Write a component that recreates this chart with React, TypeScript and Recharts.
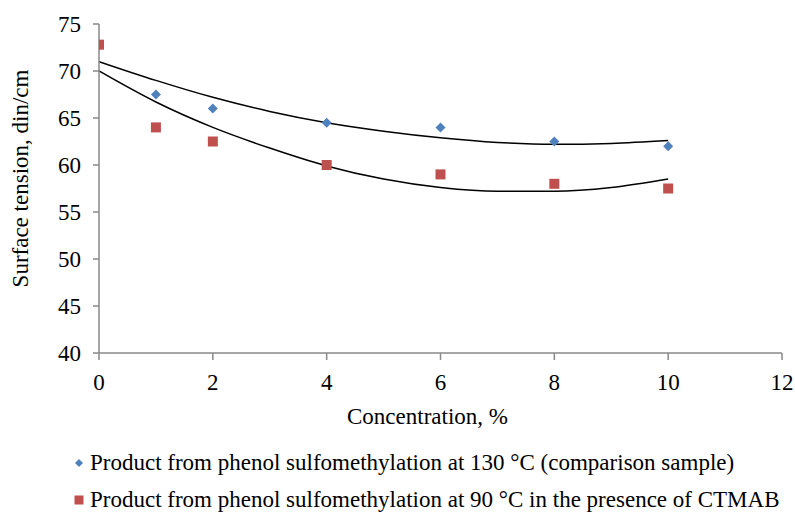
import { ComposedChart, Scatter, Line, XAxis, YAxis } from "recharts";

const seriesNames = [
  "Product from phenol sulfomethylation at 130 °C (comparison sample)",
  "Product from phenol sulfomethylation at 90 °C in the presence of CTMAB",
];
const seriesColors = ["#4F81BD", "#C0504D"];

const xTicks = [0, 2, 4, 6, 8, 10, 12];
const yTicks = [40, 45, 50, 55, 60, 65, 70, 75];

const blueX = [1, 2, 4, 6, 8, 10];
const blueY = [67.5, 66, 64.5, 64, 62.5, 62];

const redX = [0, 1, 2, 4, 6, 8, 10];
const redY = [72.8, 64, 62.5, 60, 59, 58, 57.5];

// trend lines
const trendX = [0, 1, 2, 3, 4, 5, 6, 7, 8, 9, 10];
const blueTrend = [71.0, 69.0, 67.2, 65.7, 64.5, 63.6, 62.9, 62.4, 62.2, 62.3, 62.6];
const redTrend = [70.0, 66.7, 64.0, 61.8, 59.9, 58.5, 57.6, 57.2, 57.2, 57.6, 58.5];

const blueData = blueX.map((x, i) => ({ x, y: blueY[i] }));
const redData = redX.map((x, i) => ({ x, y: redY[i] }));
const blueTrendData = trendX.map((x, i) => ({ x, y: blueTrend[i] }));
const redTrendData = trendX.map((x, i) => ({ x, y: redTrend[i] }));

const FONT = "Liberation Serif, DejaVu Serif, serif";
const AXIS = "#898989";

// eslint-disable-next-line @typescript-eslint/no-explicit-any
function Diamond({ cx, cy }: any) {
  const r = 5;
  return (
    <polygon
      points={`${cx},${cy - r} ${cx + r},${cy} ${cx},${cy + r} ${cx - r},${cy}`}
      fill={seriesColors[0]}
    />
  );
}

// eslint-disable-next-line @typescript-eslint/no-explicit-any
function Square({ cx, cy }: any) {
  return <rect x={cx - 5} y={cy - 5} width={10} height={10} fill={seriesColors[1]} />;
}

const textStyle = { fontFamily: FONT, fontSize: 23, fill: "#000" };

export default function App() {
  return (
    <div style={wrapStyle}>
      <ComposedChart
        width={795}
        height={512}
        margin={{ top: 24, right: 13, bottom: 99, left: 0 }}
        style={{ fontFamily: FONT }}
      >
        <XAxis
          type="number"
          dataKey="x"
          domain={[0, 12]}
          ticks={xTicks}
          allowDataOverflow
          stroke={AXIS}
          strokeWidth={1.5}
          tickSize={7}
          tickMargin={14}
          height={60}
          tick={{ ...textStyle, style: { fontFamily: FONT } }}
          label={{
            // eslint-disable-next-line @typescript-eslint/no-explicit-any
            content: ({ viewBox }: any) => (
              <text
                x={viewBox.x + viewBox.width / 2 - 13}
                y={424}
                textAnchor="middle"
                style={textStyle}
              >
                Concentration, %
              </text>
            ),
          }}
        />
        <YAxis
          type="number"
          domain={[40, 75]}
          ticks={yTicks}
          allowDataOverflow
          width={99}
          stroke={AXIS}
          strokeWidth={1.5}
          tickSize={6}
          tickMargin={12}
          tick={{ ...textStyle, style: { fontFamily: FONT } }}
          label={{
            // eslint-disable-next-line @typescript-eslint/no-explicit-any
            content: ({ viewBox }: any) => {
              const cy = viewBox.y + viewBox.height / 2 - 10;
              return (
                <text
                  x={28}
                  y={cy}
                  transform={`rotate(-90, 28, ${cy})`}
                  textAnchor="middle"
                  style={textStyle}
                >
                  Surface tension, din/cm
                </text>
              );
            },
          }}
        />
        <Line
          data={blueTrendData}
          dataKey="y"
          type="monotone"
          stroke="#000"
          strokeWidth={1.5}
          dot={false}
          activeDot={false}
          isAnimationActive={false}
        />
        <Line
          data={redTrendData}
          dataKey="y"
          type="monotone"
          stroke="#000"
          strokeWidth={1.5}
          dot={false}
          activeDot={false}
          isAnimationActive={false}
        />
        <Scatter data={blueData} dataKey="y" shape={<Diamond />} isAnimationActive={false} />
        <Scatter data={redData} dataKey="y" shape={<Square />} isAnimationActive={false} />
      </ComposedChart>
      <div style={legendStyle}>
        {seriesNames.map((name, i) => (
          <div key={name} style={legendRowStyle}>
            <svg width={10} height={10} style={{ marginRight: 6 }}>
              {i === 0 ? (
                <polygon points="5,1 9,5 5,9 1,5" fill={seriesColors[0]} />
              ) : (
                <rect x={0.5} y={0.5} width={9} height={9} fill={seriesColors[1]} />
              )}
            </svg>
            <span>{name}</span>
          </div>
        ))}
      </div>
    </div>
  );
}

const wrapStyle: React.CSSProperties = {
  position: "fixed",
  left: 0,
  top: 0,
  width: 795,
  height: 512,
  background: "#fff",
  overflow: "hidden",
};

const legendStyle: React.CSSProperties = {
  position: "absolute",
  left: 74,
  top: 444,
  fontFamily: FONT,
  fontSize: 23,
  color: "#000",
};

const legendRowStyle: React.CSSProperties = {
  display: "flex",
  alignItems: "center",
  height: 37,
  lineHeight: "37px",
  whiteSpace: "nowrap",
};
